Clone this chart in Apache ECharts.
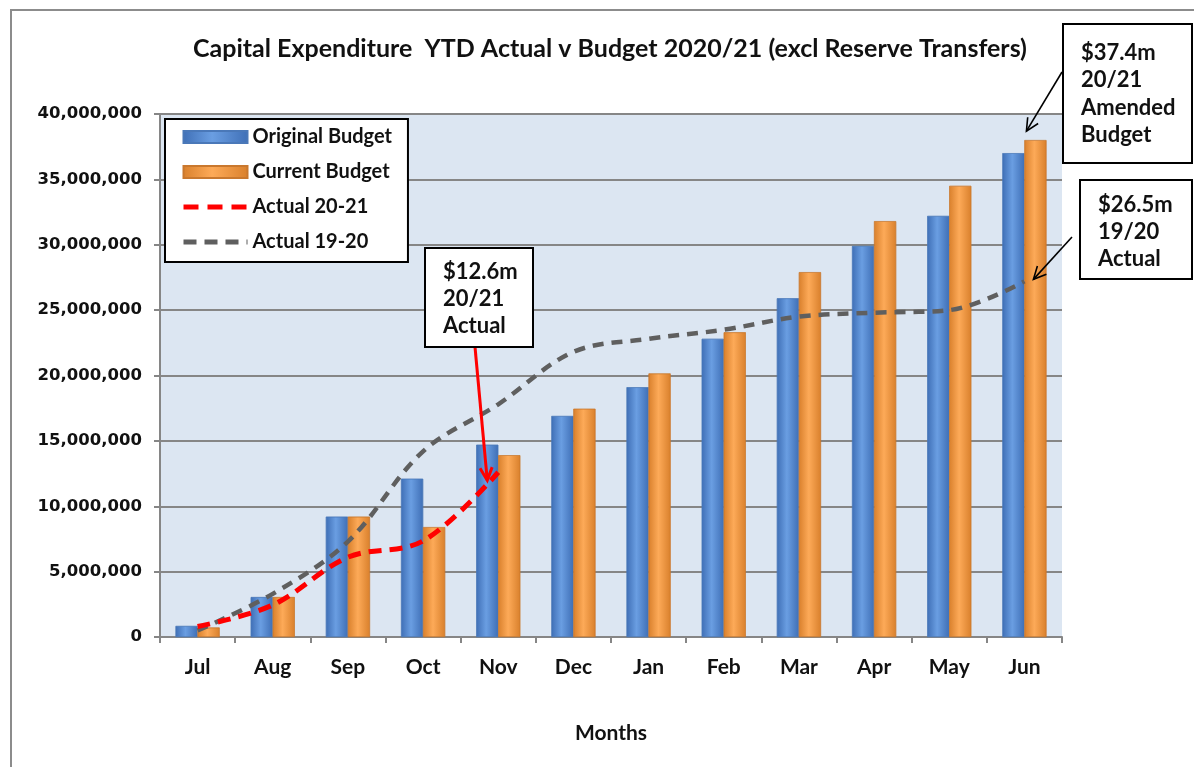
<!DOCTYPE html>
<html>
<head>
<meta charset="utf-8">
<script src="https://cdn.jsdelivr.net/npm/echarts@6/dist/echarts.min.js"></script>
<style>
html,body{margin:0;padding:0;background:#fff;}
#main{width:1194px;height:767px;}
</style>
</head>
<body>
<div id="main"></div>
<script>
var months = ['Jul','Aug','Sep','Oct','Nov','Dec','Jan','Feb','Mar','Apr','May','Jun'];
var originalBudget = [840000, 3050000, 9200000, 12100000, 14700000, 16900000, 19100000, 22800000, 25900000, 29900000, 32200000, 37000000];
var currentBudget  = [720000, 3050000, 9200000, 8400000, 13900000, 17450000, 20150000, 23300000, 27900000, 31800000, 34500000, 38000000];
var actual2021 = [800000, 2450000, 6100000, 7350000, 12600000];
var actual1920 = [500000, 3300000, 7300000, 14200000, 17800000, 21800000, 22800000, 23500000, 24500000, 24800000, 25000000, 27200000];
var yTicks = [0, 5000000, 10000000, 15000000, 20000000, 25000000, 30000000, 35000000, 40000000];

var FONT = 'Lato';
function grad(edge, mid) {
  return new echarts.graphic.LinearGradient(0, 0, 1, 0, [
    {offset: 0, color: edge}, {offset: 0.45, color: mid}, {offset: 1, color: edge}
  ]);
}
var chart = echarts.init(document.getElementById('main'), null, {renderer: 'canvas'});
var option = {
  animation: false,
  backgroundColor: '#ffffff',
  title: {
    text: 'Capital Expenditure  YTD Actual v Budget 2020/21 (excl Reserve Transfers)',
    left: 605, top: 31, textAlign: 'center',
    textStyle: {fontFamily: FONT, fontWeight: 'bold', fontSize: 25, color: '#111'}
  },
  legend: {
    orient: 'vertical', left: 165, top: 119,
    backgroundColor: '#ffffff', borderColor: '#000', borderWidth: 2,
    padding: [8, 16, 10, 16], itemGap: 15, itemWidth: 64, itemHeight: 12,
    textStyle: {fontFamily: FONT, fontWeight: 'bold', fontSize: 20, color: '#111'},
    data: [
      {name: 'Original Budget', icon: 'rect'},
      {name: 'Current Budget', icon: 'rect'},
      {name: 'Actual 20-21', itemStyle: {color: 'rgba(0,0,0,0)', borderWidth: 0}, lineStyle: {width: 5, type: [15, 9]}},
      {name: 'Actual 19-20', itemStyle: {color: 'rgba(0,0,0,0)', borderWidth: 0}, lineStyle: {width: 5, type: [13, 8]}}
    ]
  },
  grid: {left: 160, right: 132, top: 114, bottom: 130, show: true, backgroundColor: '#dce6f2', borderWidth: 0},
  xAxis: {
    type: 'category', data: months,
    name: 'Months', nameLocation: 'middle', nameGap: 86,
    nameTextStyle: {fontFamily: FONT, fontWeight: 'bold', fontSize: 21, color: '#111'},
    axisLine: {lineStyle: {color: '#868686', width: 2}},
    axisTick: {show: true, length: 6, lineStyle: {color: '#868686', width: 2}},
    axisLabel: {fontFamily: FONT, fontWeight: 'bold', fontSize: 21, color: '#111', margin: 20},
    splitLine: {show: false}
  },
  yAxis: {
    type: 'value', min: 0, max: 40000000, interval: 5000000,
    axisLine: {show: true, lineStyle: {color: '#868686', width: 2}},
    axisTick: {show: true, length: 6, lineStyle: {color: '#868686', width: 2}},
    axisLabel: {fontFamily: 'DejaVu Sans', fontWeight: 'bold', fontSize: 16.5, color: '#111', margin: 18,
      formatter: function (v) { return v.toLocaleString('en-US'); }},
    splitLine: {lineStyle: {color: '#868686', width: 2}}
  },
  series: [
    {name: 'Original Budget', type: 'bar', data: originalBudget, barWidth: 22, barGap: '0%',
      itemStyle: {color: grad('#3f6fb6', '#6a9ee2'), borderColor: '#4a78b8', borderWidth: 0.5}},
    {name: 'Current Budget', type: 'bar', data: currentBudget, barWidth: 22,
      itemStyle: {color: grad('#d9802c', '#fdaa58'), borderColor: '#c9782e', borderWidth: 0.5}},
    {name: 'Actual 20-21', type: 'line', data: actual2021, smooth: 0.35, showSymbol: false, symbol: 'none',
      lineStyle: {color: '#ff0000', width: 5, type: [13, 8]}, itemStyle: {color: '#ff0000'}, z: 5},
    {name: 'Actual 19-20', type: 'line', data: actual1920, smooth: 0.35, showSymbol: false, symbol: 'none',
      lineStyle: {color: '#5f5f5f', width: 4.5, type: [11, 8]}, itemStyle: {color: '#5f5f5f'}, z: 4}
  ]
};
chart.setOption(option);

function arrow(x1, y1, x2, y2, color, w) {
  var ang = Math.atan2(y2 - y1, x2 - x1), L = 14, a = 0.45;
  var p1 = [x2 - L * Math.cos(ang - a), y2 - L * Math.sin(ang - a)];
  var p2 = [x2 - L * Math.cos(ang + a), y2 - L * Math.sin(ang + a)];
  return [
    {type: 'line', shape: {x1: x1, y1: y1, x2: x2, y2: y2}, style: {stroke: color, lineWidth: w}, z: 20},
    {type: 'polyline', shape: {points: [p1, [x2, y2], p2]}, style: {stroke: color, lineWidth: w, fill: null}, z: 20}
  ];
}
function box(x, y, w, h, lines, dy, lh) {
  return {
    type: 'group', z: 21, children: [
      {type: 'rect', shape: {x: x, y: y, width: w, height: h}, style: {fill: '#fff', stroke: '#000', lineWidth: 2}, z: 21},
      {type: 'text', x: x + 18, y: y + dy, z: 22,
        style: {text: lines.join('\n'), fontFamily: FONT, fontWeight: 'bold', fontSize: 22, lineHeight: lh, fill: '#111'}}
    ]
  };
}
var pRed = chart.convertToPixel({gridIndex: 0}, [4, actual2021[4]]);
var pOrange = chart.convertToPixel({gridIndex: 0}, [11, currentBudget[11]]);
var pGray = chart.convertToPixel({gridIndex: 0}, [11, actual1920[11]]);

var g = [
  {type: 'rect', shape: {x: 11, y: 10, width: 1300, height: 900}, style: {fill: null, stroke: '#8c8c8c', lineWidth: 2}, z: -1, silent: true}
];
g = g.concat(arrow(475, 347, pRed[0] - 11, pRed[1] + 8, '#ff0000', 3));
g = g.concat(arrow(1062, 72, pOrange[0] + 2, pOrange[1] - 9, '#000', 1.6));
g = g.concat(arrow(1072, 237, pGray[0] + 9, pGray[1] - 2, '#000', 1.6));
g.push(box(425, 248, 108, 99, ['$12.6m', '20/21', 'Actual'], 10, 27));
g.push(box(1063, 24, 129, 139, ['$37.4m', '20/21', 'Amended', 'Budget'], 15, 27.5));
g.push(box(1080, 180, 112, 99, ['$26.5m', '19/20', 'Actual'], 11, 27));
chart.setOption({graphic: g});
</script>
</body>
</html>
